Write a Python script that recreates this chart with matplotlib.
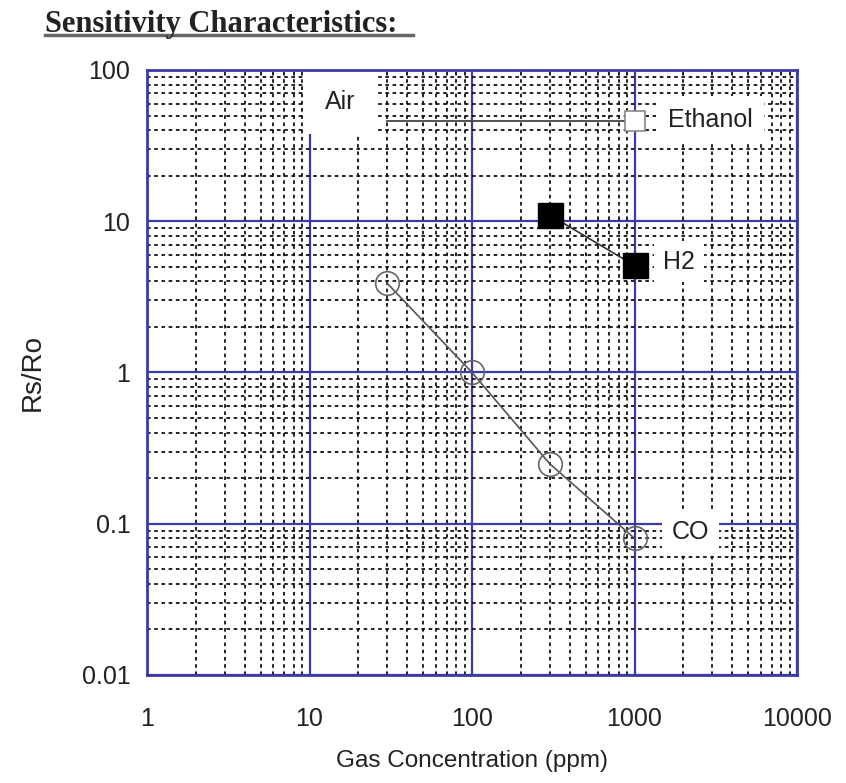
import matplotlib
matplotlib.use("Agg")
import matplotlib.pyplot as plt
from matplotlib.ticker import LogLocator, FixedLocator, NullFormatter

# Data
co_x = [30, 100, 300, 1000]
co_y = [3.9, 1.0, 0.25, 0.08]
h2_x = [300, 1000]
h2_y = [11, 5.1]
eth_x = [30, 1000]
eth_y = [46, 46]

x_ticks = [1, 10, 100, 1000, 10000]
x_labels = ["1", "10", "100", "1000", "10000"]
y_ticks = [0.01, 0.1, 1, 10, 100]
y_labels = ["0.01", "0.1", "1", "10", "100"]

W, H = 846, 783
fig = plt.figure(figsize=(W/100, H/100), dpi=100)
ax = fig.add_axes([147/W, 1-675/H, (797-147)/W, (675-70)/H])
ax.set_xscale("log")
ax.set_yscale("log")
ax.set_xlim(1, 10000)
ax.set_ylim(0.01, 100)

blue = "#3a3aa8"
ax.xaxis.set_major_locator(FixedLocator(x_ticks))
ax.yaxis.set_major_locator(FixedLocator(y_ticks))
ax.set_xticklabels(x_labels)
ax.set_yticklabels(y_labels)
ax.xaxis.set_minor_locator(LogLocator(base=10, subs=range(2, 10), numticks=20))
ax.yaxis.set_minor_locator(LogLocator(base=10, subs=range(2, 10), numticks=20))
ax.xaxis.set_minor_formatter(NullFormatter())
ax.yaxis.set_minor_formatter(NullFormatter())

ax.grid(which="minor", color="#111111", linestyle=(0, (2.0, 2.0)), linewidth=1.3)
ax.grid(which="major", color=blue, linestyle="-", linewidth=1.6)
ax.set_axisbelow(True)
for s in ax.spines.values():
    s.set_color(blue)
    s.set_linewidth(2)

ax.tick_params(which="both", length=0)
ax.tick_params(axis="x", pad=23, labelsize=18)
ax.tick_params(axis="y", pad=12, labelsize=18)
for lab in ax.get_xticklabels() + ax.get_yticklabels():
    lab.set_fontfamily("Liberation Sans")
    lab.set_color("#222222")

# Series
ax.plot(eth_x, eth_y, color="#444444", lw=1.3, marker="s", markevery=[1],
        ms=15, mfc="white", mec="#888888", mew=1.2, zorder=3)
ax.plot(h2_x, h2_y, color="#333333", lw=1.2, marker="s", ms=18,
        mfc="black", mec="black", zorder=3)
ax.plot(co_x, co_y, color="#555555", lw=1.2, marker="o", ms=17,
        mfc="none", mec="#666666", mew=1.2, zorder=3)

tkw = dict(fontsize=18, family="Liberation Sans", color="#222222", zorder=2)
ax.text(15.4, 61, "Air", ha="center", va="center",
        bbox=dict(facecolor="white", edgecolor="none", boxstyle="square,pad=0.8"), **tkw)
ax.text(1600, 47, "Ethanol", ha="left", va="center",
        bbox=dict(facecolor="white", edgecolor="none", boxstyle="square,pad=0.45"), **tkw)
ax.text(1500, 5.4, "H2", ha="left", va="center",
        bbox=dict(facecolor="white", edgecolor="none", boxstyle="square,pad=0.35"), **tkw)
ax.text(1700, 0.0885, "CO", ha="left", va="center",
        bbox=dict(facecolor="white", edgecolor="none", boxstyle="square,pad=0.4"), **tkw)

ax.set_ylabel("Rs/Ro", fontsize=20, family="Liberation Sans", color="#222222", labelpad=26)
ax.set_xlabel("Gas Concentration (ppm)", fontsize=17.5, family="Liberation Sans",
              color="#222222", labelpad=14)

fig.text(45/W, 1-32/H, "Sensitivity Characteristics:", fontsize=22, family="Liberation Serif",
         fontweight="bold", color="#222222", ha="left", va="baseline")
fig.add_artist(plt.Line2D([45/W, 413/W], [1-35/H, 1-35/H], color="#666666", lw=2.5))

fig.savefig("out.png", dpi=100)
